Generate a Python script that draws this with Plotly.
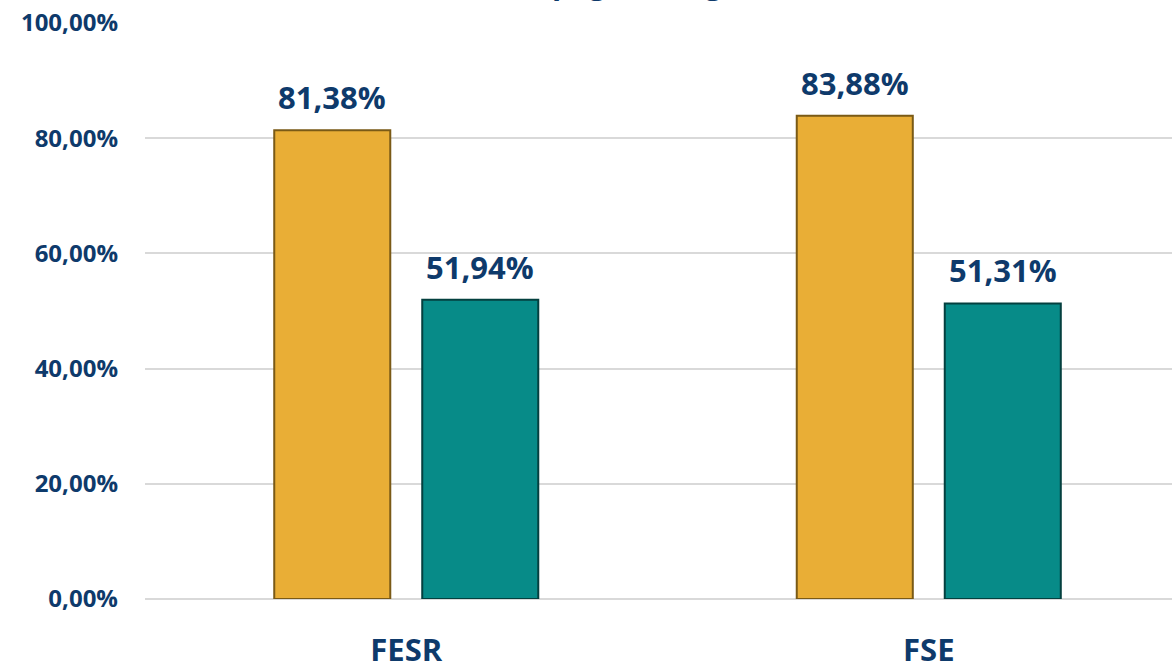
import plotly.graph_objects as go

categories = ["FESR", "FSE"]
impegni = [81.38, 83.88]
pagamenti = [51.94, 51.31]
series_names = ["Impegni", "Pagamenti"]
tick_vals = [0, 20, 40, 60, 80, 100]
title_text = "Percentuale Impegni e Pagamenti"

NAVY = "#0E3A6B"
GOLD = "#E9AE36"
TEAL = "#078B88"
FONT = "Open Sans"


def it_pct(v):
    return f"{v:.2f}%".replace(".", ",")


fig = go.Figure()
fig.add_trace(go.Bar(x=categories, y=impegni, name=series_names[0],
                     marker=dict(color=GOLD, line=dict(color="#7A5A16", width=2))))
fig.add_trace(go.Bar(x=categories, y=pagamenti, name=series_names[1],
                     marker=dict(color=TEAL, line=dict(color="#04403F", width=2))))

annotations = []
for vals, shift in ((impegni, -74), (pagamenti, 74)):
    for c, v in zip(categories, vals):
        annotations.append(dict(x=c, y=v, xref="x", yref="y", text=it_pct(v),
                                showarrow=False, yanchor="bottom", xshift=shift, yshift=10,
                                font=dict(family=FONT, size=31, color=NAVY, weight="bold")))
annotations.append(dict(x=0.42, y=1, xref="paper", yref="paper", text=title_text, showarrow=False,
                        yanchor="bottom", yshift=18,
                        font=dict(family=FONT, size=30, color=NAVY, weight="bold")))

fig.update_layout(
    width=1172, height=662,
    margin=dict(l=145, r=0, t=23, b=63, autoexpand=False),
    paper_bgcolor="white", plot_bgcolor="white",
    barmode="group", bargap=0.4335, bargroupgap=0.216,
    showlegend=False,
    annotations=annotations,
    font=dict(family=FONT, color=NAVY),
)
fig.update_xaxes(range=[-0.5, 1.4655], showgrid=False, showline=False, ticks="",
                 automargin=False,
                 tickfont=dict(family=FONT, size=31, color=NAVY, weight="bold"),
                 ticklabelstandoff=30)
fig.update_yaxes(range=[0, 100], tickvals=tick_vals, ticktext=[it_pct(t) for t in tick_vals],
                 automargin=False,
                 showgrid=True, gridcolor="#D9D9D9", gridwidth=2,
                 zeroline=True, zerolinecolor="#D9D9D9", zerolinewidth=2,
                 tickfont=dict(family=FONT, size=24, color=NAVY, weight="bold"),
                 ticklabelstandoff=26)

fig.write_html("out.html", config={"displayModeBar": False},
               post_script="document.body.style.margin='0px';")
